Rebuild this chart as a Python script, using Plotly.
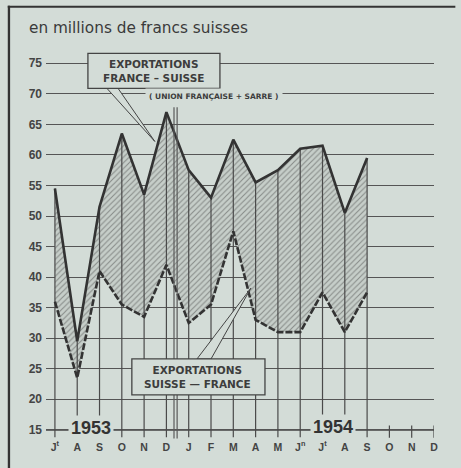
import plotly.graph_objects as go

# ---- data ----
months = ["J<sup>t</sup>", "A", "S", "O", "N", "D", "J", "F", "M", "A", "M",
          "J<sup>n</sup>", "J<sup>t</sup>", "A", "S", "O", "N", "D"]
france_suisse = [54.5, 29.5, 51.5, 63.5, 53.5, 67.0, 57.5, 53.0, 62.5, 55.5,
                 57.5, 61.0, 61.5, 50.5, 59.5]
suisse_france = [36.0, 23.5, 41.0, 35.5, 33.5, 42.0, 32.5, 35.5, 47.5, 33.0,
                 31.0, 31.0, 37.5, 31.0, 37.5]
y_ticks = [15, 20, 25, 30, 35, 40, 45, 50, 55, 60, 65, 70, 75]
years = ["1953", "1954"]

BG = "#d3dcd7"
INK = "#3a3a3a"

xi = list(range(len(france_suisse)))

fig = go.Figure()

# hatched band between the two series
fig.add_trace(go.Scatter(x=xi, y=france_suisse, mode="lines",
                         line=dict(width=0, color=INK), hoverinfo="skip",
                         showlegend=False))
fig.add_trace(go.Scatter(x=xi, y=suisse_france, mode="lines", fill="tonexty",
                         fillcolor="rgba(0,0,0,0)",
                         fillpattern=dict(shape="/", fgcolor="#4a4a4a",
                                          bgcolor="#c6cec9", size=4,
                                          solidity=0.28),
                         line=dict(width=0, color=INK), hoverinfo="skip",
                         showlegend=False))

# vertical drop lines from the axis to each upper value, plus ticks for empty months
dx, dy = [], []
for i, v in enumerate(france_suisse):
    dx += [i, i, None]
    dy += [13.8, v, None]
for i in range(len(france_suisse), len(months)):
    dx += [i, i, None]
    dy += [13.7, 15.7, None]
fig.add_trace(go.Scatter(x=dx, y=dy, mode="lines",
                         line=dict(color="#4a4a4a", width=1.2),
                         hoverinfo="skip", showlegend=False))

# series lines
fig.add_trace(go.Scatter(x=xi, y=france_suisse, mode="lines",
                         line=dict(color="#333333", width=2.6),
                         showlegend=False))
fig.add_trace(go.Scatter(x=xi, y=suisse_france, mode="lines",
                         line=dict(color="#333333", width=2.6, dash="7px,2px"),
                         showlegend=False))

shapes = []
# axis line at 15
shapes.append(dict(type="line", xref="x", yref="y", x0=-0.4, x1=17, y0=15, y1=15,
                   line=dict(color="#444", width=1.6), layer="below"))
# year divider (double line)
for xd in (5.34, 5.48):
    shapes.append(dict(type="line", xref="x", yref="y", x0=xd, x1=xd,
                       y0=13.6, y1=67.8, line=dict(color="#5a5a5a", width=1.2)))
# callout 1 pointer + box
shapes.append(dict(type="path", xref="x", yref="y",
                   path="M 2.33,70.9 L 4.48,62.2 L 2.83,70.9 Z",
                   fillcolor=BG, line=dict(color="#444", width=1)))
shapes.append(dict(type="rect", xref="x", yref="y", x0=1.48, x1=7.40,
                   y0=70.9, y1=76.63, fillcolor=BG,
                   line=dict(color="#444", width=1.3)))
# callout 2 pointer + box
shapes.append(dict(type="path", xref="x", yref="y",
                   path="M 6.37,26.6 L 8.79,38.2 L 7.0,26.6 Z",
                   fillcolor=BG, line=dict(color="#444", width=1)))
shapes.append(dict(type="rect", xref="x", yref="y", x0=3.45, x1=9.42,
                   y0=20.72, y1=26.6, fillcolor=BG,
                   line=dict(color="#444", width=1.3)))
# page frame (left and top rules)
shapes.append(dict(type="rect", xref="paper", yref="paper",
                   x0=-0.0985, x1=-0.0925, y0=-0.08, y1=1.108,
                   fillcolor="#333", line=dict(width=0), layer="above"))
shapes.append(dict(type="rect", xref="paper", yref="paper",
                   x0=-0.0985, x1=1.055, y0=1.103, y1=1.108,
                   fillcolor="#333", line=dict(width=0), layer="above"))

ann_font = dict(family="DejaVu Sans", size=10.5, color="#3d3d3d", weight="bold")
annotations = [
    dict(xref="paper", yref="paper", x=-0.05, y=1.050, xanchor="left",
         yanchor="middle", showarrow=False, text="en millions de francs suisses",
         font=dict(family="DejaVu Sans", size=15.3, color=INK)),
    dict(xref="x", yref="y", x=4.44, y=73.8, showarrow=False,
         text="EXPORTATIONS<br>FRANCE – SUISSE", font=ann_font),
    dict(xref="x", yref="y", x=6.41, y=23.7, showarrow=False,
         text="EXPORTATIONS<br>SUISSE — FRANCE", font=ann_font),
    dict(xref="x", yref="y", x=7.13, y=69.5, showarrow=False,
         text="( UNION FRANÇAISE + SARRE )", bgcolor=BG, borderpad=3,
         font=dict(family="DejaVu Sans", size=7.5, color="#3d3d3d", weight="bold")),
    dict(xref="x", yref="y", x=1.61, y=15.3, showarrow=False, text=years[0],
         bgcolor=BG, borderpad=2,
         font=dict(family="Liberation Sans", size=18, color="#333", weight="bold")),
    dict(xref="x", yref="y", x=12.47, y=15.4, showarrow=False, text=years[1],
         bgcolor=BG, borderpad=2,
         font=dict(family="Liberation Sans", size=18, color="#333", weight="bold")),
]

fig.update_layout(
    width=461, height=468,
    margin=dict(l=46.08, r=26.9, t=47.7, b=28.8, pad=0),
    paper_bgcolor=BG, plot_bgcolor=BG,
    shapes=shapes, annotations=annotations,
    xaxis=dict(range=[-0.4, 17.0], tickmode="array",
               tickvals=list(range(len(months))), ticktext=months,
               showgrid=False, zeroline=False, showline=False, ticks="",
               tickfont=dict(family="Liberation Sans", size=10.5, color="#444",
                             weight="bold")),
    yaxis=dict(range=[13.5, 77.5], tickmode="array", tickvals=y_ticks,
               ticktext=[str(v) for v in y_ticks], ticklabelstandoff=3,
               showgrid=True, gridcolor="#555", gridwidth=1.1,
               zeroline=False, showline=False, ticks="",
               tickfont=dict(family="Liberation Sans", size=12, color="#444",
                             weight="bold")),
    showlegend=False,
)

fig.write_html("out.html", config={"displayModeBar": False},
               post_script="document.body.style.margin='0';"
                           "document.body.style.background='" + BG + "';")
